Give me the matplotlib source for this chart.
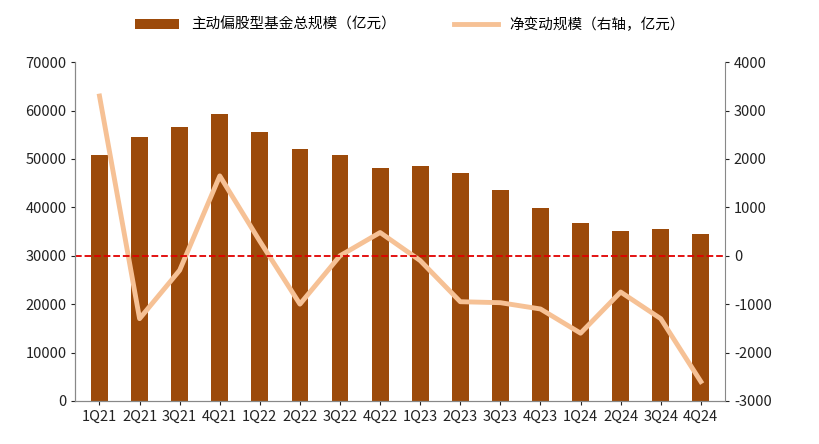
import matplotlib
matplotlib.use("Agg")
import matplotlib.pyplot as plt

plt.rcParams["font.family"] = "sans-serif"
plt.rcParams["font.sans-serif"] = ["Noto Sans CJK SC", "Noto Sans CJK JP", "DejaVu Sans"]
plt.rcParams["axes.unicode_minus"] = False

categories = ["1Q21","2Q21","3Q21","4Q21","1Q22","2Q22","3Q22","4Q22",
              "1Q23","2Q23","3Q23","4Q23","1Q24","2Q24","3Q24","4Q24"]
scale = [50800, 54500, 56600, 59200, 55600, 52000, 50800, 48200,
         48500, 47000, 43500, 39800, 36700, 35200, 35600, 34400]
net_change = [3300, -1300, -300, 1650, 300, -1000, 0, 480,
              -100, -950, -970, -1100, -1600, -750, -1300, -2600]

fig = plt.figure(figsize=(8.2, 4.44), dpi=100)
ax = fig.add_axes([0.092, 0.097, 0.792, 0.763])
ax2 = ax.twinx()
x = range(len(categories))
ax.bar(x, scale, width=0.42, color="#9C4A0A", label="主动偏股型基金总规模（亿元）")
ax2.plot(x, net_change, color="#F6C195", lw=3.5, label="净变动规模（右轴，亿元）")
ax2.axhline(0, color="#E00000", ls="--", lw=1.3)

ax.set_ylim(0, 70000)
ax.set_yticks(range(0, 70001, 10000))
ax2.set_ylim(-3000, 4000)
ax2.set_yticks(range(-3000, 4001, 1000))
ax.set_xlim(-0.6, len(categories) - 0.4)
ax.set_xticks(list(x))
ax.set_xticklabels(categories)
for a in (ax, ax2):
    a.tick_params(labelsize=10.5, colors="#222222", length=3)
    a.spines["top"].set_visible(False)
    for s in ("left", "right", "bottom"):
        a.spines[s].set_color("#888888")
ax.spines["right"].set_visible(False)

h1, l1 = ax.get_legend_handles_labels()
h2, l2 = ax2.get_legend_handles_labels()
fig.legend(h1 + h2, l1 + l2, loc="upper center", bbox_to_anchor=(0.5, 0.99),
           ncol=2, frameon=False, fontsize=10.5, columnspacing=4, handlelength=3)
fig.savefig("out.png")
